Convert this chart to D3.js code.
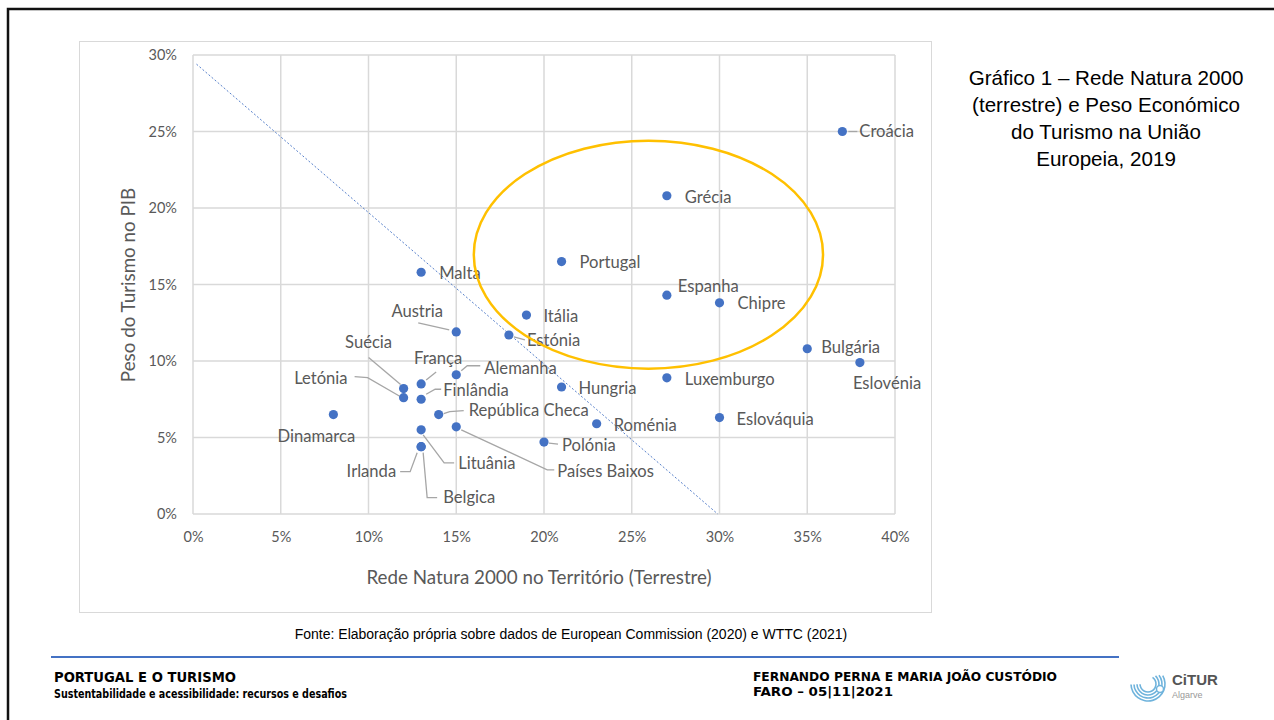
<!DOCTYPE html>
<html>
<head>
<meta charset="utf-8">
<script src="https://cdn.jsdelivr.net/npm/d3@7"></script>
<style>
  body { margin: 0; background: #fff; }
  svg { display: block; }
</style>
</head>
<body>
<svg id="chart" width="1274" height="720"></svg>
<script>
// Data
const countries = ["Croácia", "Grécia", "Portugal", "Espanha", "Chipre", "Malta", "Itália", "Estónia",
  "Austria", "Bulgária", "Eslovénia", "Luxemburgo", "Hungria", "Alemanha", "França", "Suécia",
  "Letónia", "Finlândia", "Dinamarca", "República Checa", "Eslováquia", "Roménia", "Países Baixos",
  "Lituânia", "Polónia", "Irlanda", "Belgica"];
const naturaShare = [37, 27, 21, 27, 30, 13, 19, 18, 15, 35, 38, 27, 21, 15, 13, 12, 12, 13, 8, 14, 30, 23, 15, 13, 20, 13, 13];
const tourismGdp = [25.0, 20.8, 16.5, 14.3, 13.8, 15.8, 13.0, 11.7, 11.9, 10.8, 9.9, 8.9, 8.3, 9.1, 8.5, 8.2,
  7.6, 7.5, 6.5, 6.5, 6.3, 5.9, 5.7, 5.5, 4.7, 4.4, 4.4];
const xTicks = [0, 5, 10, 15, 20, 25, 30, 35, 40];
const yTicks = [0, 5, 10, 15, 20, 25, 30];
// dotted reference line and highlighted group (data units, %)
const trendX = [0.2, 29.9];
const trendY = [29.4, 0];
const ellipseX = [16.0, 35.9];
const ellipseY = [9.5, 24.4];

// label placement (pixels relative to the dot)
const labelLayout = {
  "Croácia": { dx: 17, dy: 0, leader: [[6, 0], [15, 0]] },
  "Grécia": { dx: 18, dy: 1 },
  "Portugal": { dx: 18, dy: 1 },
  "Espanha": { dx: 11, dy: -9 },
  "Chipre": { dx: 18, dy: 0 },
  "Malta": { dx: 18, dy: 1 },
  "Itália": { dx: 17, dy: 1 },
  "Estónia": { dx: 18, dy: 5, leader: [[5, 2], [16, 5]] },
  "Austria": { dx: -39, dy: -21, anchor: "middle", leader: [[-7, -2], [-38, -9]] },
  "Bulgária": { dx: 14, dy: -2 },
  "Eslovénia": { dx: -7, dy: 21 },
  "Luxemburgo": { dx: 18, dy: 1 },
  "Hungria": { dx: 17, dy: 1 },
  "Alemanha": { dx: 28, dy: -7, leader: [[5, -4], [11, -9], [24, -9]] },
  "França": { dx: 17, dy: -26, anchor: "middle", leader: [[5, -4], [15, -12]] },
  "Suécia": { dx: -35, dy: -46, anchor: "middle", leader: [[-3, -4], [-35, -31]] },
  "Letónia": { dx: -56, dy: -20, anchor: "end", leader: [[-3, -1], [-36, -20], [-49, -21]] },
  "Finlândia": { dx: 22, dy: -9, leader: [[5, -5], [14, -10], [20, -10]] },
  "Dinamarca": { dx: -17, dy: 22, anchor: "middle" },
  "República Checa": { dx: 30, dy: -4, leader: [[5, -1], [11, -3], [25, -4]] },
  "Eslováquia": { dx: 17, dy: 2 },
  "Roménia": { dx: 17, dy: 1 },
  "Países Baixos": { dx: 101, dy: 44, leader: [[5, 3], [91, 43], [98, 43]] },
  "Lituânia": { dx: 37, dy: 33, leader: [[2, 5], [23, 33], [33, 33]] },
  "Polónia": { dx: 18, dy: 3, leader: [[5, 1], [14, 2]] },
  "Irlanda": { dx: -25, dy: 25, anchor: "end", leader: [[-4, 6], [-11, 25], [-21, 25]] },
  "Belgica": { dx: 22, dy: 51, leader: [[2, 6], [6, 51], [16, 51]] }
};

const svg = d3.select("#chart");
const grey = "#595959", blue = "#4472c4";
const chartFont = "Lato, 'Open Sans', sans-serif";
const arial = "'Liberation Sans', Arial, sans-serif";

// page frame
svg.append("path")
  .attr("d", "M8,720 V9 H1274")
  .attr("fill", "none").attr("stroke", "#111").attr("stroke-width", 2.5);

// chart area
svg.append("rect")
  .attr("x", 79.5).attr("y", 41.5).attr("width", 852).attr("height", 571)
  .attr("fill", "#fff").attr("stroke", "#d9d9d9");

const x = d3.scaleLinear().domain([0, 40]).range([193, 895]);
const y = d3.scaleLinear().domain([0, 30]).range([514, 55]);

// gridlines
const grid = svg.append("g");
grid.selectAll("line.v").data(xTicks).join("line")
  .attr("x1", d => x(d)).attr("x2", d => x(d))
  .attr("y1", y(30)).attr("y2", y(0))
  .attr("stroke", "#d9d9d9").attr("stroke-width", 1.5);
grid.selectAll("line.h").data(yTicks).join("line")
  .attr("x1", x(0)).attr("x2", x(40))
  .attr("y1", d => y(d)).attr("y2", d => y(d))
  .attr("stroke", "#d9d9d9").attr("stroke-width", 1.5);

// axes
const xAxis = svg.append("g")
  .attr("transform", `translate(0,${y(0)})`)
  .call(d3.axisBottom(x).tickValues(xTicks).tickFormat(d => d + "%").tickSize(0).tickPadding(18));
const yAxis = svg.append("g")
  .attr("transform", `translate(${x(0)},0)`)
  .call(d3.axisLeft(y).tickValues(yTicks).tickFormat(d => d + "%").tickSize(0).tickPadding(16));
[xAxis, yAxis].forEach(a => {
  a.select(".domain").remove();
  a.selectAll("text").attr("fill", grey).attr("font-family", chartFont).attr("font-size", 14.5);
});

svg.append("text")
  .attr("x", 539).attr("y", 577).attr("dy", "0.35em")
  .attr("text-anchor", "middle").attr("fill", grey)
  .attr("font-family", chartFont).attr("font-size", 18.8)
  .text("Rede Natura 2000 no Território (Terrestre)");
svg.append("text")
  .attr("transform", "translate(128,285) rotate(-90)").attr("dy", "0.35em")
  .attr("text-anchor", "middle").attr("fill", grey)
  .attr("font-family", chartFont).attr("font-size", 18.8)
  .text("Peso do Turismo no PIB");

// dotted reference line
svg.append("line")
  .attr("x1", x(trendX[0])).attr("y1", y(trendY[0]))
  .attr("x2", x(trendX[1])).attr("y2", y(trendY[1]))
  .attr("stroke", blue).attr("stroke-width", 0.9).attr("stroke-dasharray", "2,2");

// points
const points = countries.map((c, i) => ({ name: c, px: x(naturaShare[i]), py: y(tourismGdp[i]) }));

// leaders
const line = d3.line();
svg.append("g").selectAll("path").data(points.filter(d => labelLayout[d.name].leader)).join("path")
  .attr("d", d => line(labelLayout[d.name].leader.map(p => [d.px + p[0], d.py + p[1]])))
  .attr("fill", "none").attr("stroke", "#a6a6a6").attr("stroke-width", 1.3);

svg.append("g").selectAll("circle").data(points).join("circle")
  .attr("cx", d => d.px).attr("cy", d => d.py).attr("r", 4.6)
  .attr("fill", blue);

svg.append("g").selectAll("text").data(points).join("text")
  .attr("x", d => d.px + labelLayout[d.name].dx)
  .attr("y", d => d.py + labelLayout[d.name].dy)
  .attr("dy", "0.35em")
  .attr("text-anchor", d => labelLayout[d.name].anchor || "start")
  .attr("fill", grey).attr("font-family", chartFont).attr("font-size", 16.6)
  .text(d => d.name);

// highlight ellipse
svg.append("ellipse")
  .attr("cx", (x(ellipseX[0]) + x(ellipseX[1])) / 2)
  .attr("cy", (y(ellipseY[0]) + y(ellipseY[1])) / 2)
  .attr("rx", (x(ellipseX[1]) - x(ellipseX[0])) / 2)
  .attr("ry", (y(ellipseY[0]) - y(ellipseY[1])) / 2)
  .attr("fill", "none").attr("stroke", "#ffc000").attr("stroke-width", 2.5);

// title
const titleLines = ["Gráfico 1 – Rede Natura 2000", "(terrestre) e Peso Económico", "do Turismo na União", "Europeia, 2019"];
svg.append("g").selectAll("text").data(titleLines).join("text")
  .attr("x", 1106).attr("y", (d, i) => 78 + i * 27).attr("dy", "0.35em")
  .attr("text-anchor", "middle").attr("fill", "#000")
  .attr("font-family", arial).attr("font-size", 20.6)
  .text(d => d);

// source and footer
svg.append("text")
  .attr("x", 571).attr("y", 634).attr("dy", "0.35em").attr("text-anchor", "middle")
  .attr("font-family", arial).attr("font-size", 14)
  .text("Fonte: Elaboração própria sobre dados de European Commission (2020) e WTTC (2021)");

svg.append("line")
  .attr("x1", 51).attr("x2", 1119).attr("y1", 657).attr("y2", 657)
  .attr("stroke", blue).attr("stroke-width", 2);

const footFont = "'DejaVu Sans Condensed', 'DejaVu Sans', sans-serif";
const foot = [
  { t: "PORTUGAL E O TURISMO", x: 54, y: 677, w: 182, s: 13.5 },
  { t: "Sustentabilidade e acessibilidade: recursos e desafios", x: 54, y: 694, w: 293, s: 11.8 },
  { t: "FERNANDO PERNA E MARIA JOÃO CUSTÓDIO", x: 753, y: 676, w: 304, s: 13 },
  { t: "FARO – 05|11|2021", x: 753, y: 691, w: 140, s: 13 }
];
svg.append("g").selectAll("text").data(foot).join("text")
  .attr("x", d => d.x).attr("y", d => d.y).attr("dy", "0.35em")
  .attr("textLength", d => d.w).attr("lengthAdjust", "spacingAndGlyphs")
  .attr("font-family", footFont).attr("font-weight", "bold").attr("font-size", d => d.s)
  .attr("fill", "#000").text(d => d.t);

// CiTUR logo
const logo = svg.append("g").attr("transform", "translate(1148,684)");
const arc = d3.arc();
[8, 11, 14, 17].forEach((r, i) => {
  logo.append("path")
    .attr("d", arc({ innerRadius: r - 0.8, outerRadius: r + 0.8, startAngle: 0.6 + i * 0.15, endAngle: 2 * Math.PI - 1.6 }))
    .attr("fill", "#6fb3dc");
});
logo.append("circle").attr("cx", 12).attr("cy", 5).attr("r", 3.5)
  .attr("fill", "#fff").attr("stroke", "#6fb3dc").attr("stroke-width", 1.5);
svg.append("text").attr("x", 1172).attr("y", 680).attr("dy", "0.35em")
  .attr("font-family", arial).attr("font-weight", "bold")
  .attr("font-size", 15).attr("fill", "#555").text("CiTUR");
svg.append("text").attr("x", 1172).attr("y", 695).attr("dy", "0.35em")
  .attr("font-family", arial)
  .attr("font-size", 9).attr("fill", "#999").text("Algarve");
</script>
</body>
</html>
